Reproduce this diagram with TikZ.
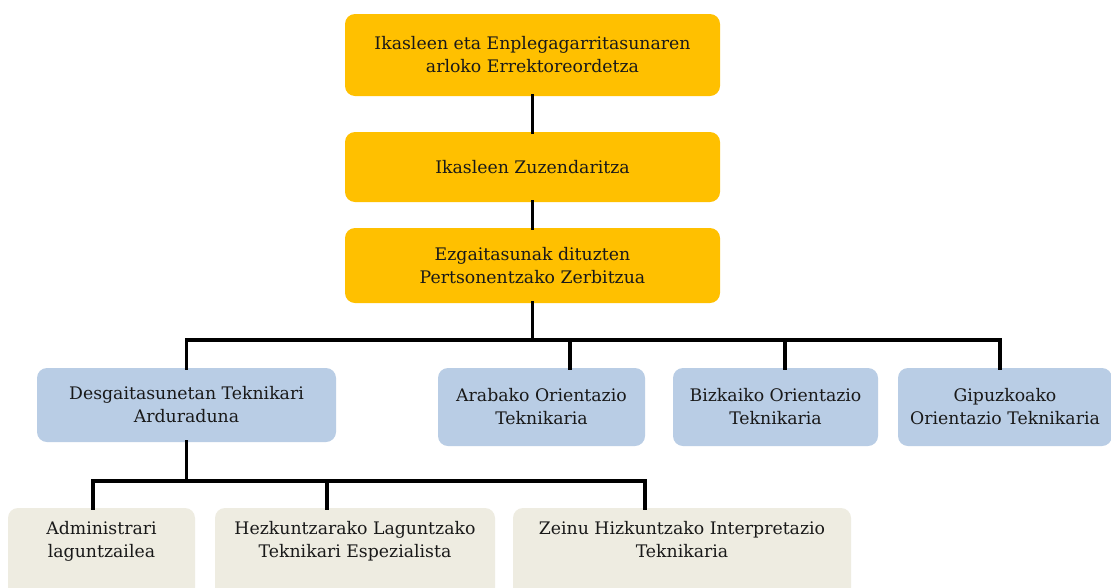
\documentclass[tikz,border=0pt]{standalone}
\usepackage{fontspec}
\setmainfont{DejaVu Serif}
\definecolor{gold}{HTML}{FFC000}
\definecolor{lblue}{HTML}{B9CDE5}
\definecolor{tan}{HTML}{EEECE1}
\begin{document}
\begin{tikzpicture}[x=1pt,y=-1pt,
  box/.style={rounded corners=10pt, inner sep=0pt, outer sep=0pt, align=center,
    text=black!90, font=\fontsize{17.3}{23}\selectfont},
  topbox/.style={box, fill=gold, minimum width=375pt},
  midbox/.style={box, fill=lblue, minimum height=76pt},
  lowbox/.style={box, fill=tan, anchor=north, inner ysep=13pt, text depth=60pt},
  conn/.style={line width=3.2pt, line cap=rect}]
\useasboundingbox (0,0) rectangle (1111,587);
\clip (0,0) rectangle (1111,587);
\fill[white] (0,0) rectangle (1111,587);
% top chain
\node[topbox, minimum height=82pt] (top) at (532.5,55) {Ikasleen eta Enplegagarritasunaren\\arloko Errektoreordetza};
\node[topbox, minimum height=70pt] (dir) at (532.5,167) {Ikasleen Zuzendaritza};
\node[topbox, minimum height=75pt] (serv) at (532.5,265.5) {Ezgaitasunak dituzten\\Pertsonentzako Zerbitzua};
% middle row
\node[midbox, minimum width=299pt, minimum height=74pt] (b1) at (186.5,405) {Desgaitasunetan Teknikari\\Arduraduna};
\node[midbox, minimum width=207pt, minimum height=78pt] (b2) at (541.5,407) {Arabako Orientazio\\Teknikaria};
\node[midbox, minimum width=205pt, minimum height=78pt] (b3) at (775.5,407) {Bizkaiko Orientazio\\Teknikaria};
\node[midbox, minimum width=214pt, minimum height=78pt] (b4) at (1005,407) {Gipuzkoako\\Orientazio Teknikaria};
% bottom row
\node[lowbox, minimum width=187pt] (c1) at (101.5,508) {Administrari\\laguntzailea};
\node[lowbox, minimum width=280pt] (c2) at (355,508) {Hezkuntzarako Laguntzako\\Teknikari Espezialista};
\node[lowbox, minimum width=338pt] (c3) at (682,508) {Zeinu Hizkuntzako Interpretazio\\Teknikaria};
% connectors
\coordinate (bus1) at (532.5,340);
\coordinate (bus2) at (186.5,481);
\draw[conn] (top.south) -- (dir.north);
\draw[conn] (dir.south) -- (serv.north);
\draw[conn] (serv.south) -- (bus1) -| (b1.north);
\draw[conn] (bus1) -| ([xshift=28.5pt]b2.north);
\draw[conn] (bus1) -| ([xshift=9.5pt]b3.north);
\draw[conn] (bus1) -| ([xshift=-5pt]b4.north);
\draw[conn] (b1.south) -- (bus2) -| ([xshift=-8.5pt]c1.north);
\draw[conn] (bus2) -| ([xshift=-28pt]c2.north);
\draw[conn] (bus2) -| ([xshift=-37pt]c3.north);
\end{tikzpicture}
\end{document}
